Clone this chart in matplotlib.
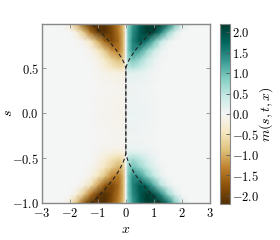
import numpy as np
import matplotlib
matplotlib.use("Agg")
import matplotlib.pyplot as plt
from matplotlib.ticker import FuncFormatter, FixedLocator

plt.rcParams['mathtext.fontset'] = 'cm'
plt.rcParams['font.family'] = ['DejaVu Serif']

# ---- data (right half, x >= 0; left half is antisymmetric) ----
x_cols = [0.0, 0.08, 0.25, 0.5, 0.75, 1.0, 1.25, 1.5, 1.75, 2.0, 2.25, 3.0]
s_rows = [-1.0, -0.9, -0.8, -0.7, -0.6, -0.5, -0.45, -0.4, -0.3, -0.15,
          0.0, 0.15, 0.3, 0.45, 0.5, 0.6, 0.7, 0.8, 0.9, 1.0]
m_right = [
    [0, 0.80, 1.30, 1.80, 2.20, 2.40, 2.30, 1.70, 0.90, 0.25, 0, 0],   # -1.0
    [0, 0.90, 1.40, 1.90, 2.20, 2.00, 1.40, 0.75, 0.25, 0, 0, 0],      # -0.9
    [0, 0.90, 1.50, 1.90, 1.70, 1.10, 0.50, 0.15, 0, 0, 0, 0],         # -0.8
    [0, 0.90, 1.40, 1.30, 0.85, 0.45, 0.15, 0, 0, 0, 0, 0],            # -0.7
    [0, 0.75, 1.00, 0.75, 0.45, 0.20, 0.04, 0, 0, 0, 0, 0],            # -0.6
    [0, 0.50, 0.60, 0.45, 0.25, 0.10, 0, 0, 0, 0, 0, 0],               # -0.5
    [0, 0.28, 0.32, 0.25, 0.15, 0.06, 0, 0, 0, 0, 0, 0],               # -0.45
    [0, 0.10, 0.12, 0.10, 0.07, 0.03, 0, 0, 0, 0, 0, 0],               # -0.4
    [0, 0.04, 0.04, 0.04, 0.03, 0.01, 0, 0, 0, 0, 0, 0],               # -0.3
    [0, 0.07, 0.07, 0.06, 0.05, 0.02, 0, 0, 0, 0, 0, 0],               # -0.15
    [0, 0.09, 0.09, 0.08, 0.06, 0.03, 0, 0, 0, 0, 0, 0],               # 0.0
    [0, 0.07, 0.07, 0.06, 0.05, 0.02, 0, 0, 0, 0, 0, 0],               # 0.15
    [0, 0.06, 0.06, 0.05, 0.04, 0.01, 0, 0, 0, 0, 0, 0],               # 0.3
    [0, 0.18, 0.18, 0.15, 0.10, 0.04, 0, 0, 0, 0, 0, 0],               # 0.45
    [0, 0.45, 0.50, 0.38, 0.20, 0.07, 0, 0, 0, 0, 0, 0],               # 0.5
    [0, 0.75, 0.95, 0.70, 0.40, 0.15, 0.02, 0, 0, 0, 0, 0],            # 0.6
    [0, 0.90, 1.40, 1.25, 0.80, 0.40, 0.10, 0, 0, 0, 0, 0],            # 0.7
    [0, 0.90, 1.50, 1.90, 1.60, 1.00, 0.45, 0.10, 0, 0, 0, 0],         # 0.8
    [0, 0.90, 1.40, 1.90, 2.20, 2.10, 1.50, 0.80, 0.25, 0, 0, 0],      # 0.9
    [0, 0.80, 1.30, 1.80, 2.20, 2.40, 2.30, 1.80, 1.00, 0.30, 0, 0],   # 1.0
]

# dashed characteristic curve (right branch; left branch is its mirror)
curve_s = [-1.0, -0.95, -0.9, -0.85, -0.8, -0.75, -0.7, -0.65, -0.6, -0.55, -0.5, -0.45,
           0.5, 0.55, 0.6, 0.65, 0.7, 0.75, 0.8, 0.85, 0.9, 0.95, 1.0]
curve_x = [1.22, 1.05, 0.90, 0.75, 0.62, 0.49, 0.37, 0.27, 0.18, 0.10, 0.04, 0.0,
           0.0, 0.05, 0.13, 0.23, 0.34, 0.47, 0.60, 0.75, 0.90, 1.07, 1.25]

x_ticks = [-3, -2, -1, 0, 1, 2, 3]
s_ticks = [-1.0, -0.5, 0.0, 0.5]
cb_ticks = [-2.0, -1.5, -1.0, -0.5, 0.0, 0.5, 1.0, 1.5, 2.0]
vlim = 2.2

# ---- build full grid ----
xr = np.array(x_cols)
mr = np.array(m_right, dtype=float)
x_full = np.concatenate([-xr[::-1], xr[1:]])
m_full = np.concatenate([-mr[:, ::-1], mr[:, 1:]], axis=1)
X, S = np.meshgrid(x_full, np.array(s_rows))

fig = plt.figure(figsize=(2.8, 2.4), dpi=100)
ax = fig.add_axes([0.149, 0.154, 0.601, 0.746])
cax = fig.add_axes([0.786, 0.15, 0.036, 0.75])

pc = ax.pcolormesh(X, S, m_full, cmap='BrBG', vmin=-vlim, vmax=vlim,
                   shading='gouraud', rasterized=True)
cs = np.array(curve_s)
cx = np.array(curve_x)
ax.plot(cx, cs, color='#222222', lw=0.8, linestyle=(0, (3.5, 2.5)))
ax.plot(-cx, cs, color='#222222', lw=0.8, linestyle=(1.5, (3.5, 2.5)))

ax.set_xlim(-3, 3)
ax.set_ylim(-1.0, 0.99)
ax.xaxis.set_major_locator(FixedLocator(x_ticks))
ax.yaxis.set_major_locator(FixedLocator(s_ticks))
ax.xaxis.set_major_formatter(FuncFormatter(lambda v, p: r'$%d$' % round(v)))
ax.yaxis.set_major_formatter(FuncFormatter(lambda v, p: r'$%.1f$' % v))
ax.tick_params(direction='in', length=3, width=0.6, color='#888888',
               top=True, right=True, labelsize=9, pad=2)
ax.tick_params(axis='x', pad=3)
for sp in ax.spines.values():
    sp.set_color('#888888')
    sp.set_linewidth(1.0)
ax.set_xlabel(r'$x$', fontsize=10, labelpad=1)
ax.set_ylabel(r'$s$', fontsize=10)
ax.yaxis.set_label_coords(-0.16, 0.5)

cb = fig.colorbar(pc, cax=cax)
cb.set_ticks(cb_ticks)
cb.ax.yaxis.set_major_formatter(FuncFormatter(lambda v, p: r'$%.1f$' % v))
cb.ax.tick_params(direction='in', length=3, width=0.6, color='#555555',
                  labelsize=9, pad=1)
cb.outline.set_edgecolor('#888888')
cb.set_label(r'$m(s,t,x)$', fontsize=10, labelpad=-1)

fig.savefig('out.png', dpi=100)
